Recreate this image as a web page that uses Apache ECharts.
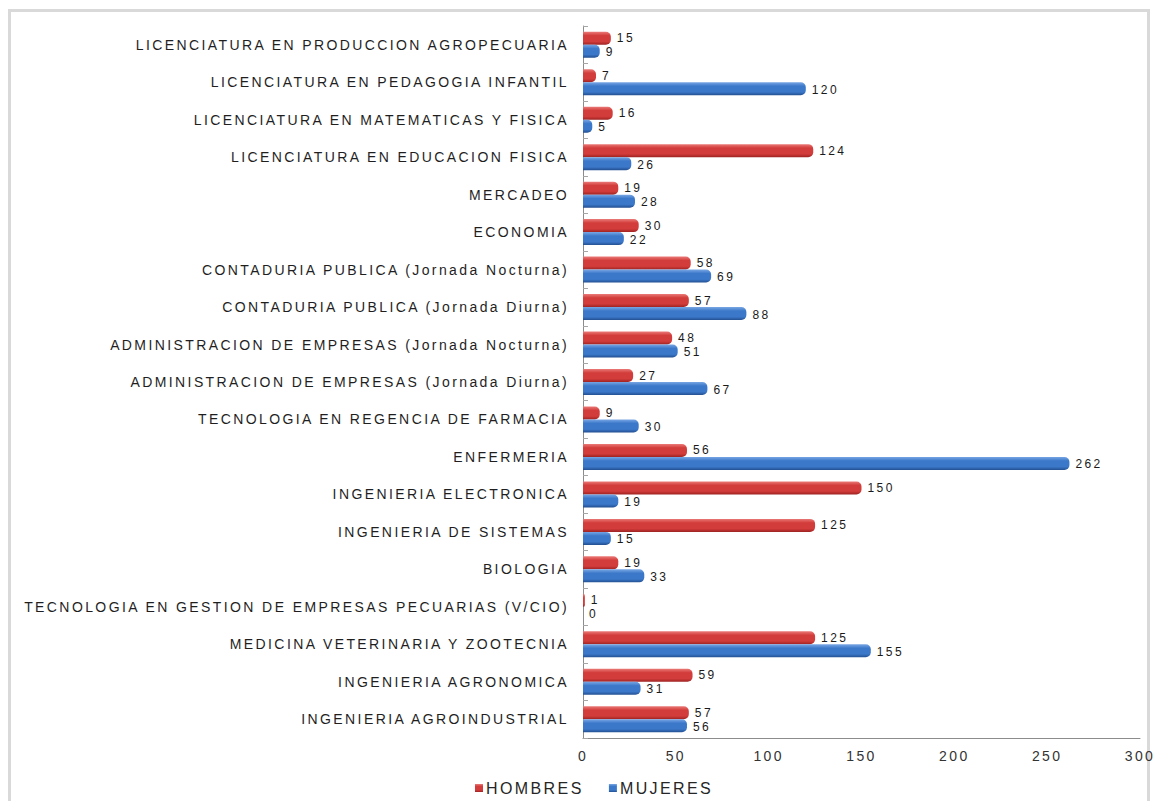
<!DOCTYPE html>
<html>
<head>
<meta charset="utf-8">
<script src="https://cdn.jsdelivr.net/npm/echarts@6/dist/echarts.min.js"></script>
<style>
  html, body { margin: 0; padding: 0; background: #ffffff; }
  #frame {
    position: absolute; left: 8px; top: 9px; width: 1136px; height: 800px;
    border: 3px solid #d9d9d9; box-sizing: content-box;
  }
  #chart { position: absolute; left: 0; top: 0; width: 1156px; height: 801px; }
  /* widen the lettering of all chart texts */
  #chart svg text { letter-spacing: 2.4px; }
</style>
</head>
<body>
<div id="frame"></div>
<div id="chart"></div>
<script>
// Programas académicos (de arriba hacia abajo)
const programas = [
  'LICENCIATURA EN PRODUCCION AGROPECUARIA',
  'LICENCIATURA EN PEDAGOGIA INFANTIL',
  'LICENCIATURA EN MATEMATICAS Y FISICA',
  'LICENCIATURA EN EDUCACION FISICA',
  'MERCADEO',
  'ECONOMIA',
  'CONTADURIA PUBLICA (Jornada Nocturna)',
  'CONTADURIA PUBLICA (Jornada Diurna)',
  'ADMINISTRACION DE EMPRESAS (Jornada Nocturna)',
  'ADMINISTRACION DE EMPRESAS (Jornada Diurna)',
  'TECNOLOGIA EN REGENCIA DE FARMACIA',
  'ENFERMERIA',
  'INGENIERIA ELECTRONICA',
  'INGENIERIA DE SISTEMAS',
  'BIOLOGIA',
  'TECNOLOGIA EN GESTION DE EMPRESAS PECUARIAS (V/CIO)',
  'MEDICINA VETERINARIA Y ZOOTECNIA',
  'INGENIERIA AGRONOMICA',
  'INGENIERIA AGROINDUSTRIAL'
];
const hombres = [15, 7, 16, 124, 19, 30, 58, 57, 48, 27, 9, 56, 150, 125, 19, 1, 125, 59, 57];
const mujeres = [9, 120, 5, 26, 28, 22, 69, 88, 51, 67, 30, 262, 19, 15, 33, 0, 155, 31, 56];
const escalaX = { min: 0, max: 300, interval: 50 };

const chart = echarts.init(document.getElementById('chart'), null, { renderer: 'svg' });

// gradiente vertical que da relieve a cada barra
function relieve(claro, medio, oscuro) {
  return new echarts.graphic.LinearGradient(0, 0, 0, 1, [
    { offset: 0, color: claro },
    { offset: 0.3, color: medio },
    { offset: 0.75, color: medio },
    { offset: 1, color: oscuro }
  ]);
}

const etiqueta = (dy) => ({
  show: true,
  position: 'right',
  distance: 6,
  offset: [0, dy],
  color: '#1a1a1a',
  fontFamily: 'Liberation Sans, Arial, sans-serif',
  fontSize: 12
});

chart.setOption({
  animation: false,
  backgroundColor: 'transparent',
  textStyle: { fontFamily: 'Liberation Sans, Arial, sans-serif' },
  grid: { left: 583, right: 16, top: 26, bottom: 63, containLabel: false },
  legend: {
    left: 470, top: 775,
    itemWidth: 8, itemHeight: 8, itemGap: 42,
    icon: 'rect',
    textStyle: { fontSize: 16, color: '#262626', padding: [0, 0, 0, -2] },
    data: ['HOMBRES', 'MUJERES']
  },
  xAxis: {
    type: 'value',
    min: escalaX.min, max: escalaX.max, interval: escalaX.interval,
    axisLine: { show: true, lineStyle: { color: '#8c8c8c', width: 1 } },
    axisTick: { show: false },
    splitLine: { show: false },
    axisLabel: { color: '#333333', fontSize: 14, margin: 11 }
  },
  yAxis: {
    type: 'category',
    inverse: true,
    data: programas,
    axisLine: { show: true, lineStyle: { color: '#8c8c8c', width: 1 } },
    axisTick: { show: true, inside: true, length: 5, lineStyle: { color: '#a6a6a6' } },
    axisLabel: { color: '#1f1f1f', fontSize: 14, margin: 14 }
  },
  series: [
    {
      name: 'HOMBRES', type: 'bar', data: hombres,
      barWidth: 13, barGap: '0%',
      itemStyle: { color: relieve('#ea7a78', '#d23c3a', '#9e2322'), borderRadius: [0, 5, 5, 0] },
      label: etiqueta(0)
    },
    {
      name: 'MUJERES', type: 'bar', data: mujeres,
      barWidth: 13, barGap: '0%',
      itemStyle: { color: relieve('#78a6e4', '#3b78c9', '#234f91'), borderRadius: [0, 5, 5, 0] },
      label: etiqueta(1)
    }
  ],
  color: ['#d23c3a', '#3b78c9']
});
</script>
</body>
</html>
